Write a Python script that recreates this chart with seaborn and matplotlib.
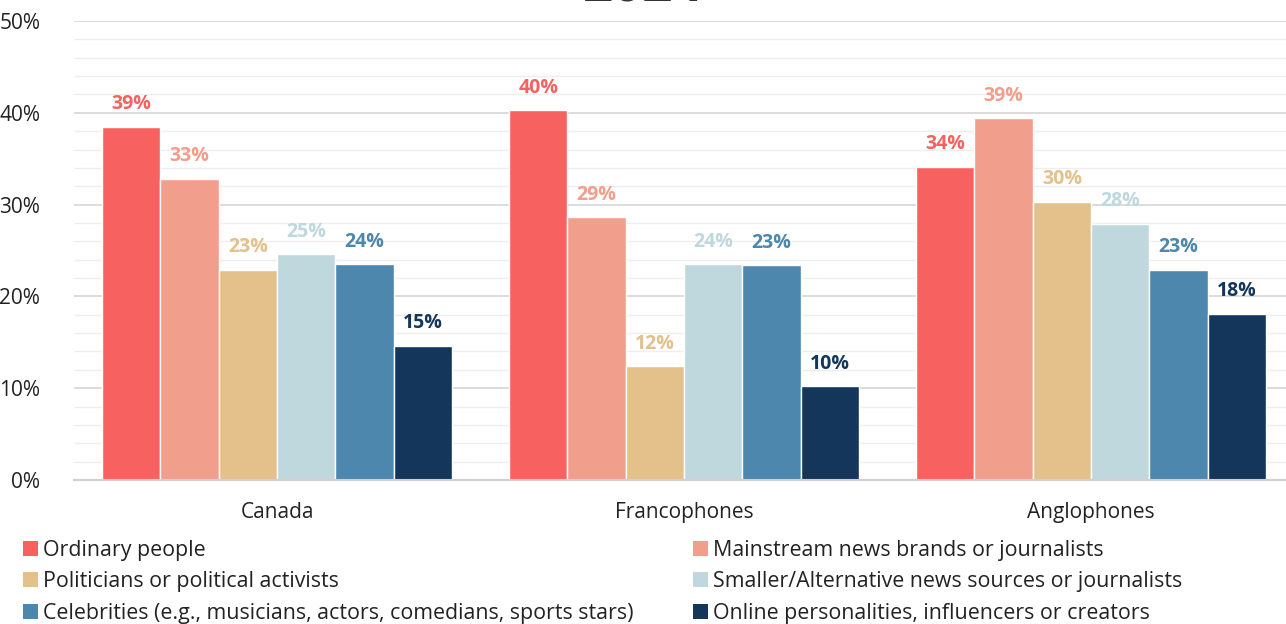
import matplotlib
matplotlib.use("Agg")
import matplotlib.pyplot as plt
import seaborn as sns
import pandas as pd
from matplotlib.ticker import MultipleLocator, FuncFormatter
from matplotlib.patches import Patch

groups = ["Canada", "Francophones", "Anglophones"]
series = [
    "Ordinary people",
    "Mainstream news brands or journalists",
    "Politicians or political activists",
    "Smaller/Alternative news sources or journalists",
    "Celebrities (e.g., musicians, actors, comedians, sports stars)",
    "Online personalities, influencers or creators",
]
colors = ["#F76260", "#F19E8C", "#E4C08B", "#BFD8DE", "#4E87AE", "#13365A"]

ordinary = [38.5, 40.3, 34.1]
mainstream = [32.8, 28.6, 39.4]
politicians = [22.9, 12.4, 30.3]
smaller = [24.6, 23.5, 27.9]
celebrities = [23.5, 23.4, 22.9]
online = [14.6, 10.2, 18.1]

lab_ordinary = ["39%", "40%", "34%"]
lab_mainstream = ["33%", "29%", "39%"]
lab_politicians = ["23%", "12%", "30%"]
lab_smaller = ["25%", "24%", "28%"]
lab_celebrities = ["24%", "23%", "23%"]
lab_online = ["15%", "10%", "18%"]

values = [ordinary, mainstream, politicians, smaller, celebrities, online]
labels = [lab_ordinary, lab_mainstream, lab_politicians, lab_smaller, lab_celebrities, lab_online]

rows = []
for s, vals in zip(series, values):
    for g, v in zip(groups, vals):
        rows.append({"group": g, "series": s, "value": v})
df = pd.DataFrame(rows)

sns.set_style("white")
plt.rcParams["font.family"] = ["Open Sans", "DejaVu Sans"]

fig = plt.figure(figsize=(12.86, 6.24), dpi=100)
ax = fig.add_axes([73.5 / 1286, 1 - 480 / 624, 1221 / 1286, 459 / 624])

sns.barplot(data=df, x="group", y="value", hue="series", hue_order=series,
            order=groups, palette=colors, width=0.86, gap=0, ax=ax,
            legend=False, saturation=1, errorbar=None)

ax.set_ylim(0, 50)
ax.set_xlim(-0.5, 2.5)
ax.yaxis.set_major_locator(MultipleLocator(10))
ax.yaxis.set_minor_locator(MultipleLocator(2))
ax.yaxis.set_major_formatter(FuncFormatter(lambda v, p: f"{int(v)}%"))
ax.grid(which="major", axis="y", color="#d9d9d9", linewidth=1.3)
ax.grid(which="minor", axis="y", color="#eeeeee", linewidth=1.0)
ax.set_axisbelow(True)
for sp in ["top", "right", "left"]:
    ax.spines[sp].set_visible(False)
ax.spines["bottom"].set_color("#d0d0d0")
ax.spines["bottom"].set_linewidth(1.5)
ax.tick_params(axis="both", which="both", length=0, labelsize=15, colors="#222222")
ax.tick_params(axis="y", pad=24)
ax.tick_params(axis="x", pad=16)
ax.set_xlabel("")
ax.set_ylabel("")

for cont, labs, col in zip(ax.containers, labels, colors):
    ax.bar_label(cont, labels=labs, padding=9, color=col, fontsize=14,
                 fontweight="bold")

fig.text(0.5, 1 - 1.0 / 624, "2024", ha="center", va="baseline", fontsize=38,
         fontweight="bold", color="#333333")

left = [0, 2, 4]
right = [1, 3, 5]
for idxs, xpos in [(left, 14 / 1286), (right, 684 / 1286)]:
    handles = [Patch(facecolor=colors[i], edgecolor="none") for i in idxs]
    fig.legend(handles, [series[i] for i in idxs], loc="upper left",
               bbox_to_anchor=(xpos, 1 - 531 / 624), frameon=False,
               fontsize=15.4, handlelength=0.7, handleheight=0.7,
               handletextpad=0.25, labelspacing=0.5, borderaxespad=0,
               labelcolor="#222222")

fig.savefig("out.png", dpi=100)
